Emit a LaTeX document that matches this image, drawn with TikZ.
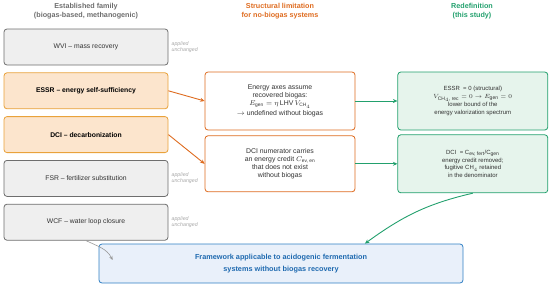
\documentclass[tikz,border=0pt]{standalone}
\usepackage{amsmath}
\usepackage{fontspec}
\setmainfont{Liberation Sans}
\usetikzlibrary{arrows.meta,positioning,calc}
\definecolor{ink}{HTML}{333333}
\definecolor{stone}{HTML}{6E6E6E}
\definecolor{fog}{HTML}{EFEFEF}
\definecolor{apricot}{HTML}{E9A23B}
\definecolor{peach}{HTML}{FCE5CD}
\definecolor{rust}{HTML}{DE6B1F}
\definecolor{jade}{HTML}{22A06D}
\definecolor{mint}{HTML}{E6F4EC}
\definecolor{ocean}{HTML}{2F7FC4}
\definecolor{sky}{HTML}{E9F0FA}
\definecolor{deepsea}{HTML}{1F6AB0}
\tikzset{
  box/.style={rectangle, rounded corners=3pt, line width=0.8pt, align=center, inner sep=3pt},
  oldbox/.style={box, draw=stone, fill=fog, text=ink, minimum width=164pt, minimum height=36pt,
                 font=\fontsize{6.8}{8}\selectfont},
  keybox/.style={oldbox, draw=apricot, fill=peach, text=black, font=\fontsize{6.8}{8}\selectfont\bfseries},
  limbox/.style={box, draw=rust, fill=white, text=ink, minimum width=150pt, font=\fontsize{6.9}{8}\selectfont},
  newbox/.style={box, draw=jade, fill=mint, text=ink, minimum width=150pt, font=\fontsize{6}{7.8}\selectfont},
  goalbox/.style={box, draw=ocean, fill=sky, text=deepsea, minimum width=364pt, minimum height=39pt,
                  font=\fontsize{7.3}{11.5}\selectfont\bfseries},
  hdr/.style={align=center, font=\fontsize{7.2}{8.9}\selectfont\bfseries},
  note/.style={align=left, text=stone!60, inner sep=0pt, font=\fontsize{5.3}{6}\selectfont\itshape},
  flow/.style={-{Stealth[length=4.5pt,width=4pt]}, line width=0.9pt},
  thin flow/.style={-{Stealth[length=4pt,width=3.5pt]}, line width=0.6pt, draw=stone!70}
}
\begin{document}
\begin{tikzpicture}[x=1pt, y=1pt]
  \useasboundingbox (0,0) rectangle (550,-287);
  \node[hdr, text=stone] (hfam) at (86,-11) {Established family\\(biogas-based, methanogenic)};
  \node[hdr, text=rust] (hlim) at (280,-11) {Structural limitation\\for no-biogas systems};
  \node[hdr, text=jade] (hnew) at (472,-11) {Redefinition\\(this study)};
  % established indicators
  \node[oldbox] (wvi) at (86,-47) {WVI -- mass recovery};
  \node[keybox, below=7pt of wvi] (essr) {ESSR -- energy self-sufficiency};
  \node[keybox, below=7pt of essr] (dci) {DCI -- decarbonization};
  \node[oldbox, below=7pt of dci] (fsr) {FSR -- fertilizer substitution};
  \node[oldbox, below=7pt of fsr] (wcf) {WCF -- water loop closure};
  \node[note, right=3pt of wvi] (nwvi) {applied\\unchanged};
  \node[note, right=3pt of fsr] (nfsr) {applied\\unchanged};
  \node[note, right=3pt of wcf] (nwcf) {applied\\unchanged};
  % limitations
  \node[limbox, minimum height=58pt] (lim1) at (280,-101) {Energy axes assume\\recovered biogas:\\$E_{\text{gen}} = \eta$\,LHV\,$V_{\text{CH}_4}$\\[1.5pt]$\rightarrow$ undefined without biogas};
  \node[limbox, minimum height=56pt, below=5pt of lim1] (lim2) {DCI numerator carries\\an energy credit $C_{\text{ev, en}}$\\that does not exist\\without biogas};
  % redefinitions
  \node[newbox, minimum height=58pt, right=42pt of lim1] (new1) {ESSR\ \ = 0 (structural)\\$V_{\text{CH}_4\text{, rec}} = 0 \rightarrow E_{\text{gen}} = 0$\\lower bound of the\\energy valorization spectrum};
  \node[newbox, minimum height=58pt, right=42pt of lim2] (new2) {DCI\ \ = C$_{\text{ev, fert}}$/C$_{\text{gen}}$\\energy credit removed;\\fugitive CH$_4$ retained\\in the denominator};
  \node[goalbox] (goal) at (281,-263.5) {Framework applicable to acidogenic fermentation\\systems without biogas recovery};
  \coordinate (goalin) at ($(goal.north west)!0.73!(goal.north east)$);
  \coordinate (wcfin) at ($(goal.west)+(14,3.5)$);
  \draw[flow, draw=rust] (essr.east) -- (lim1.west);
  \draw[flow, draw=rust] (dci.east) -- (lim2.west);
  \draw[flow, draw=jade] (lim1.east) -- (new1.west);
  \draw[flow, draw=jade] (lim2.east) -- (new2.west);
  \draw[flow, draw=jade] (new2.south) to[out=193, in=36] (goalin);
  \draw[thin flow] (wcf.south) to[out=-26, in=117] (wcfin);
\end{tikzpicture}
\end{document}
